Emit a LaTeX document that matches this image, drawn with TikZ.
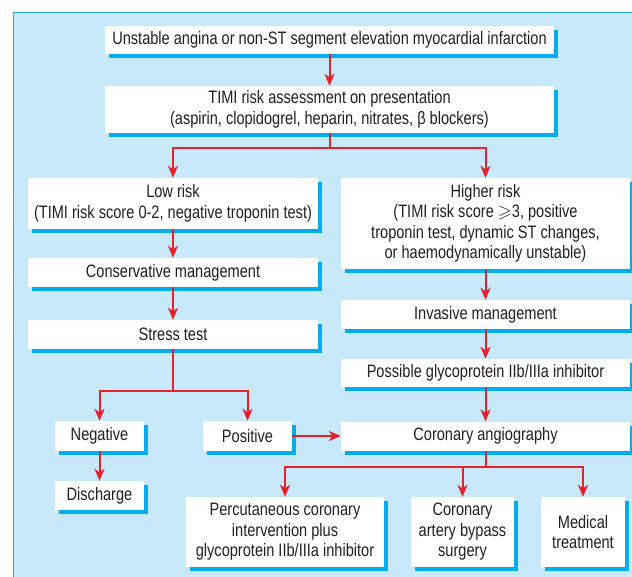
\documentclass[tikz,border=0pt]{standalone}
\usepackage{amssymb}
\usepackage{fontspec}
\setmainfont{Liberation Sans}[FakeStretch=0.81]
\usetikzlibrary{arrows.meta,shadows}
\definecolor{bgblue}{HTML}{C8E9F9}
\definecolor{frameblue}{HTML}{1AAEE8}
\definecolor{shblue}{HTML}{00AEEF}
\definecolor{arrred}{HTML}{E8202A}
\definecolor{txt}{HTML}{231F20}
\tikzset{
  box/.style={fill=white, inner sep=0pt, align=center, text=txt,
    font=\fontsize{18}{20.5}\selectfont,
    general shadow={shadow xshift=4pt, shadow yshift=-4pt, fill=shblue}},
  conn/.style={draw=arrred, line width=2pt, -{Stealth[length=12pt,width=10pt,inset=3.5pt]}},
  line/.style={draw=arrred, line width=2pt}
}
\begin{document}
\begin{tikzpicture}[x=1pt,y=-1pt]
\useasboundingbox (0,0) rectangle (632,577);
\fill[bgblue] (13,13) rectangle (632,577);
\draw[frameblue, line width=1pt] (13,577) -- (13,13) -- (632,13);

\node[box, minimum width=449pt, minimum height=28pt] (b1) at (329.5,40) {Unstable angina or non-ST segment elevation myocardial infarction};
\node[box, minimum width=449pt, minimum height=47pt] (b2) at (329.5,109.5) {TIMI risk assessment on presentation\\(aspirin, clopidogrel, heparin, nitrates, β blockers)};
\node[box, minimum width=290pt, minimum height=51pt] (low) at (173,203.5) {Low risk\\(TIMI risk score 0-2, negative troponin test)};
\node[box, minimum width=289pt, minimum height=91pt] (high) at (485.5,223.5) {Higher risk\\(TIMI risk score $\geqslant$3, positive\\troponin test, dynamic ST changes,\\or haemodynamically unstable)};
\node[box, minimum width=290pt, minimum height=29pt] (cons) at (173,272.5) {Conservative management};
\node[box, minimum width=290pt, minimum height=29pt] (stress) at (173,334.5) {Stress test};
\node[box, minimum width=289pt, minimum height=29pt] (inv) at (485.5,314.5) {Invasive management};
\node[box, minimum width=289pt, minimum height=28pt] (gp) at (485.5,373) {Possible glycoprotein IIb/IIIa inhibitor};
\node[box, minimum width=289pt, minimum height=29pt] (ang) at (485.5,436) {Coronary angiography};
\node[box, minimum width=89pt, minimum height=30pt] (neg) at (99.5,436) {Negative};
\node[box, minimum width=89pt, minimum height=30pt] (pos) at (247.5,436) {Positive};
\node[box, minimum width=89pt, minimum height=29pt] (dis) at (99.5,495.5) {Discharge};
\node[box, minimum width=198pt, minimum height=70pt] (pci) at (285,532) {Percutaneous coronary\\intervention plus\\glycoprotein IIb/IIIa inhibitor};
\node[box, minimum width=103pt, minimum height=70pt] (cabg) at (462.5,532) {Coronary\\artery bypass\\surgery};
\node[box, minimum width=84pt, minimum height=70pt] (med) at (583,532) {Medical\\treatment};

\draw[conn] (b1) -- (b2);
\draw[line] (b2.south) -- ++(0,15) coordinate (j1);
\draw[conn] (j1) -| (low.north);
\draw[conn] (j1) -| (high.north);
\draw[conn] (low) -- (cons);
\draw[conn] (cons) -- (stress);
\draw[conn] (high) -- (inv);
\draw[conn] (inv) -- (gp);
\draw[conn] (gp) -- (ang);
\draw[line] (stress.south) -- ++(0,42) coordinate (j2);
\draw[conn] (j2) -| (neg.north);
\draw[conn] (j2) -| (pos.north);
\draw[conn] (neg) -- (dis);
\draw[conn] (pos) -- (ang);
\draw[line] (ang.south) -- ++(0,16) coordinate (j3);
\draw[conn] (j3) -| (pci.north);
\draw[conn] (j3) -| (cabg.north);
\draw[conn] (j3) -| (med.north);
\end{tikzpicture}
\end{document}
